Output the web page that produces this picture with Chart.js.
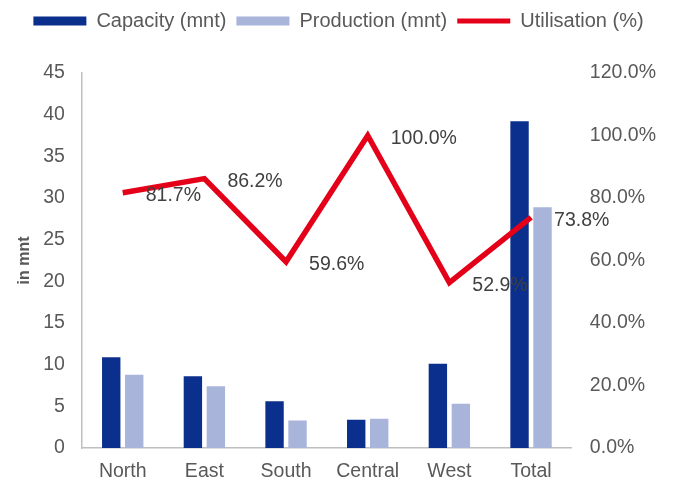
<!DOCTYPE html>
<html>
<head>
<meta charset="utf-8">
<script src="https://cdn.jsdelivr.net/npm/chart.js@4.4.1/dist/chart.umd.min.js"></script>
<style>
  html, body { margin: 0; padding: 0; background: #fff; }
  #wrap { width: 675px; height: 481px; }
</style>
</head>
<body>
<div id="wrap"><canvas id="capChart" width="675" height="481"></canvas></div>
<script>
// regional numbers
const categories = ['North', 'East', 'South', 'Central', 'West', 'Total'];
const capacity = [10.9, 8.6, 5.6, 3.4, 10.1, 39.2];     // mnt
const production = [8.8, 7.4, 3.3, 3.5, 5.3, 28.9];    // mnt
const utilisation = [81.7, 86.2, 59.6, 100.0, 52.9, 73.8]; // %

const NAVY = '#0B2F8C';
const LAVENDER = '#A8B4DA';
const RED = '#E50019';
const GREY_TXT = '#595959';
const FONT = '"Liberation Sans", Arial, sans-serif';
const TICK_SIZE = 19.5;

Chart.defaults.font.family = FONT;
Chart.defaults.color = GREY_TXT;

// push the plot down a bit below the legend
const legendGap = {
  id: 'legendGap',
  beforeInit(chart) {
    const fit = chart.legend.fit;
    chart.legend.fit = function () {
      fit.bind(chart.legend)();
      this.height += 32;
    };
  }
};

// percentage labels to the right of each line point
const pctLabels = {
  id: 'pctLabels',
  afterDatasetsDraw(chart) {
    const ctx = chart.ctx;
    const meta = chart.getDatasetMeta(2);
    ctx.save();
    ctx.font = TICK_SIZE + 'px ' + FONT;
    ctx.fillStyle = '#404040';
    ctx.textAlign = 'left';
    ctx.textBaseline = 'middle';
    meta.data.forEach((pt, i) => {
      ctx.fillText(utilisation[i].toFixed(1) + '%', pt.x + 23, pt.y + 3);
    });
    ctx.restore();
  }
};

new Chart(document.getElementById('capChart'), {
  type: 'bar',
  data: {
    labels: categories,
    datasets: [
      {
        label: 'Capacity (mnt)',
        data: capacity,
        backgroundColor: NAVY,
        yAxisID: 'y',
        order: 2,
        categoryPercentage: 0.563,
        barPercentage: 0.8
      },
      {
        label: 'Production (mnt)',
        data: production,
        backgroundColor: LAVENDER,
        yAxisID: 'y',
        order: 2,
        categoryPercentage: 0.563,
        barPercentage: 0.8
      },
      {
        type: 'line',
        label: 'Utilisation (%)',
        data: utilisation,
        borderColor: RED,
        backgroundColor: RED,
        borderWidth: 5.5,
        pointRadius: 0,
        tension: 0,
        yAxisID: 'y1',
        order: 0
      }
    ]
  },
  options: {
    responsive: false,
    animation: false,
    layout: { padding: { top: 1, left: 3, right: 1, bottom: -14.5 } },
    plugins: {
      tooltip: { enabled: false },
      legend: {
        position: 'top',
        labels: {
          usePointStyle: true,
          pointStyleWidth: 53,
          boxHeight: 9,
          padding: 10,
          color: GREY_TXT,
          font: { size: 20 },
          generateLabels(chart) {
            return chart.data.datasets.map((ds, i) => ({
              text: ds.label,
              datasetIndex: i,
              fillStyle: ds.type === 'line' ? 'rgba(0,0,0,0)' : ds.backgroundColor,
              strokeStyle: ds.type === 'line' ? RED : ds.backgroundColor,
              lineWidth: ds.type === 'line' ? 5 : 0,
              pointStyle: ds.type === 'line' ? 'line' : 'rect',
              fontColor: GREY_TXT
            }));
          }
        }
      }
    },
    scales: {
      x: {
        grid: { display: false, drawTicks: false },
        border: { display: true, color: '#BFBFBF', width: 1.5 },
        ticks: { padding: 14, color: GREY_TXT, font: { size: TICK_SIZE, lineHeight: 1 } }
      },
      y: {
        position: 'left',
        min: 0,
        max: 45,
        grid: { display: false, drawTicks: false },
        border: { display: true, color: '#BFBFBF', width: 1.5 },
        ticks: { stepSize: 5, padding: 17, color: GREY_TXT, font: { size: TICK_SIZE } },
        title: {
          display: true,
          text: 'in mnt',
          color: GREY_TXT,
          font: { size: 16, weight: 'bold' },
          padding: { top: 12, bottom: -8 }
        }
      },
      y1: {
        position: 'right',
        min: 0,
        max: 120,
        grid: { display: false, drawTicks: false },
        border: { display: false },
        ticks: {
          stepSize: 20,
          padding: 18,
          color: GREY_TXT,
          font: { size: TICK_SIZE },
          callback: v => v.toFixed(1) + '%'
        }
      }
    }
  },
  plugins: [legendGap, pctLabels]
});
</script>
</body>
</html>
